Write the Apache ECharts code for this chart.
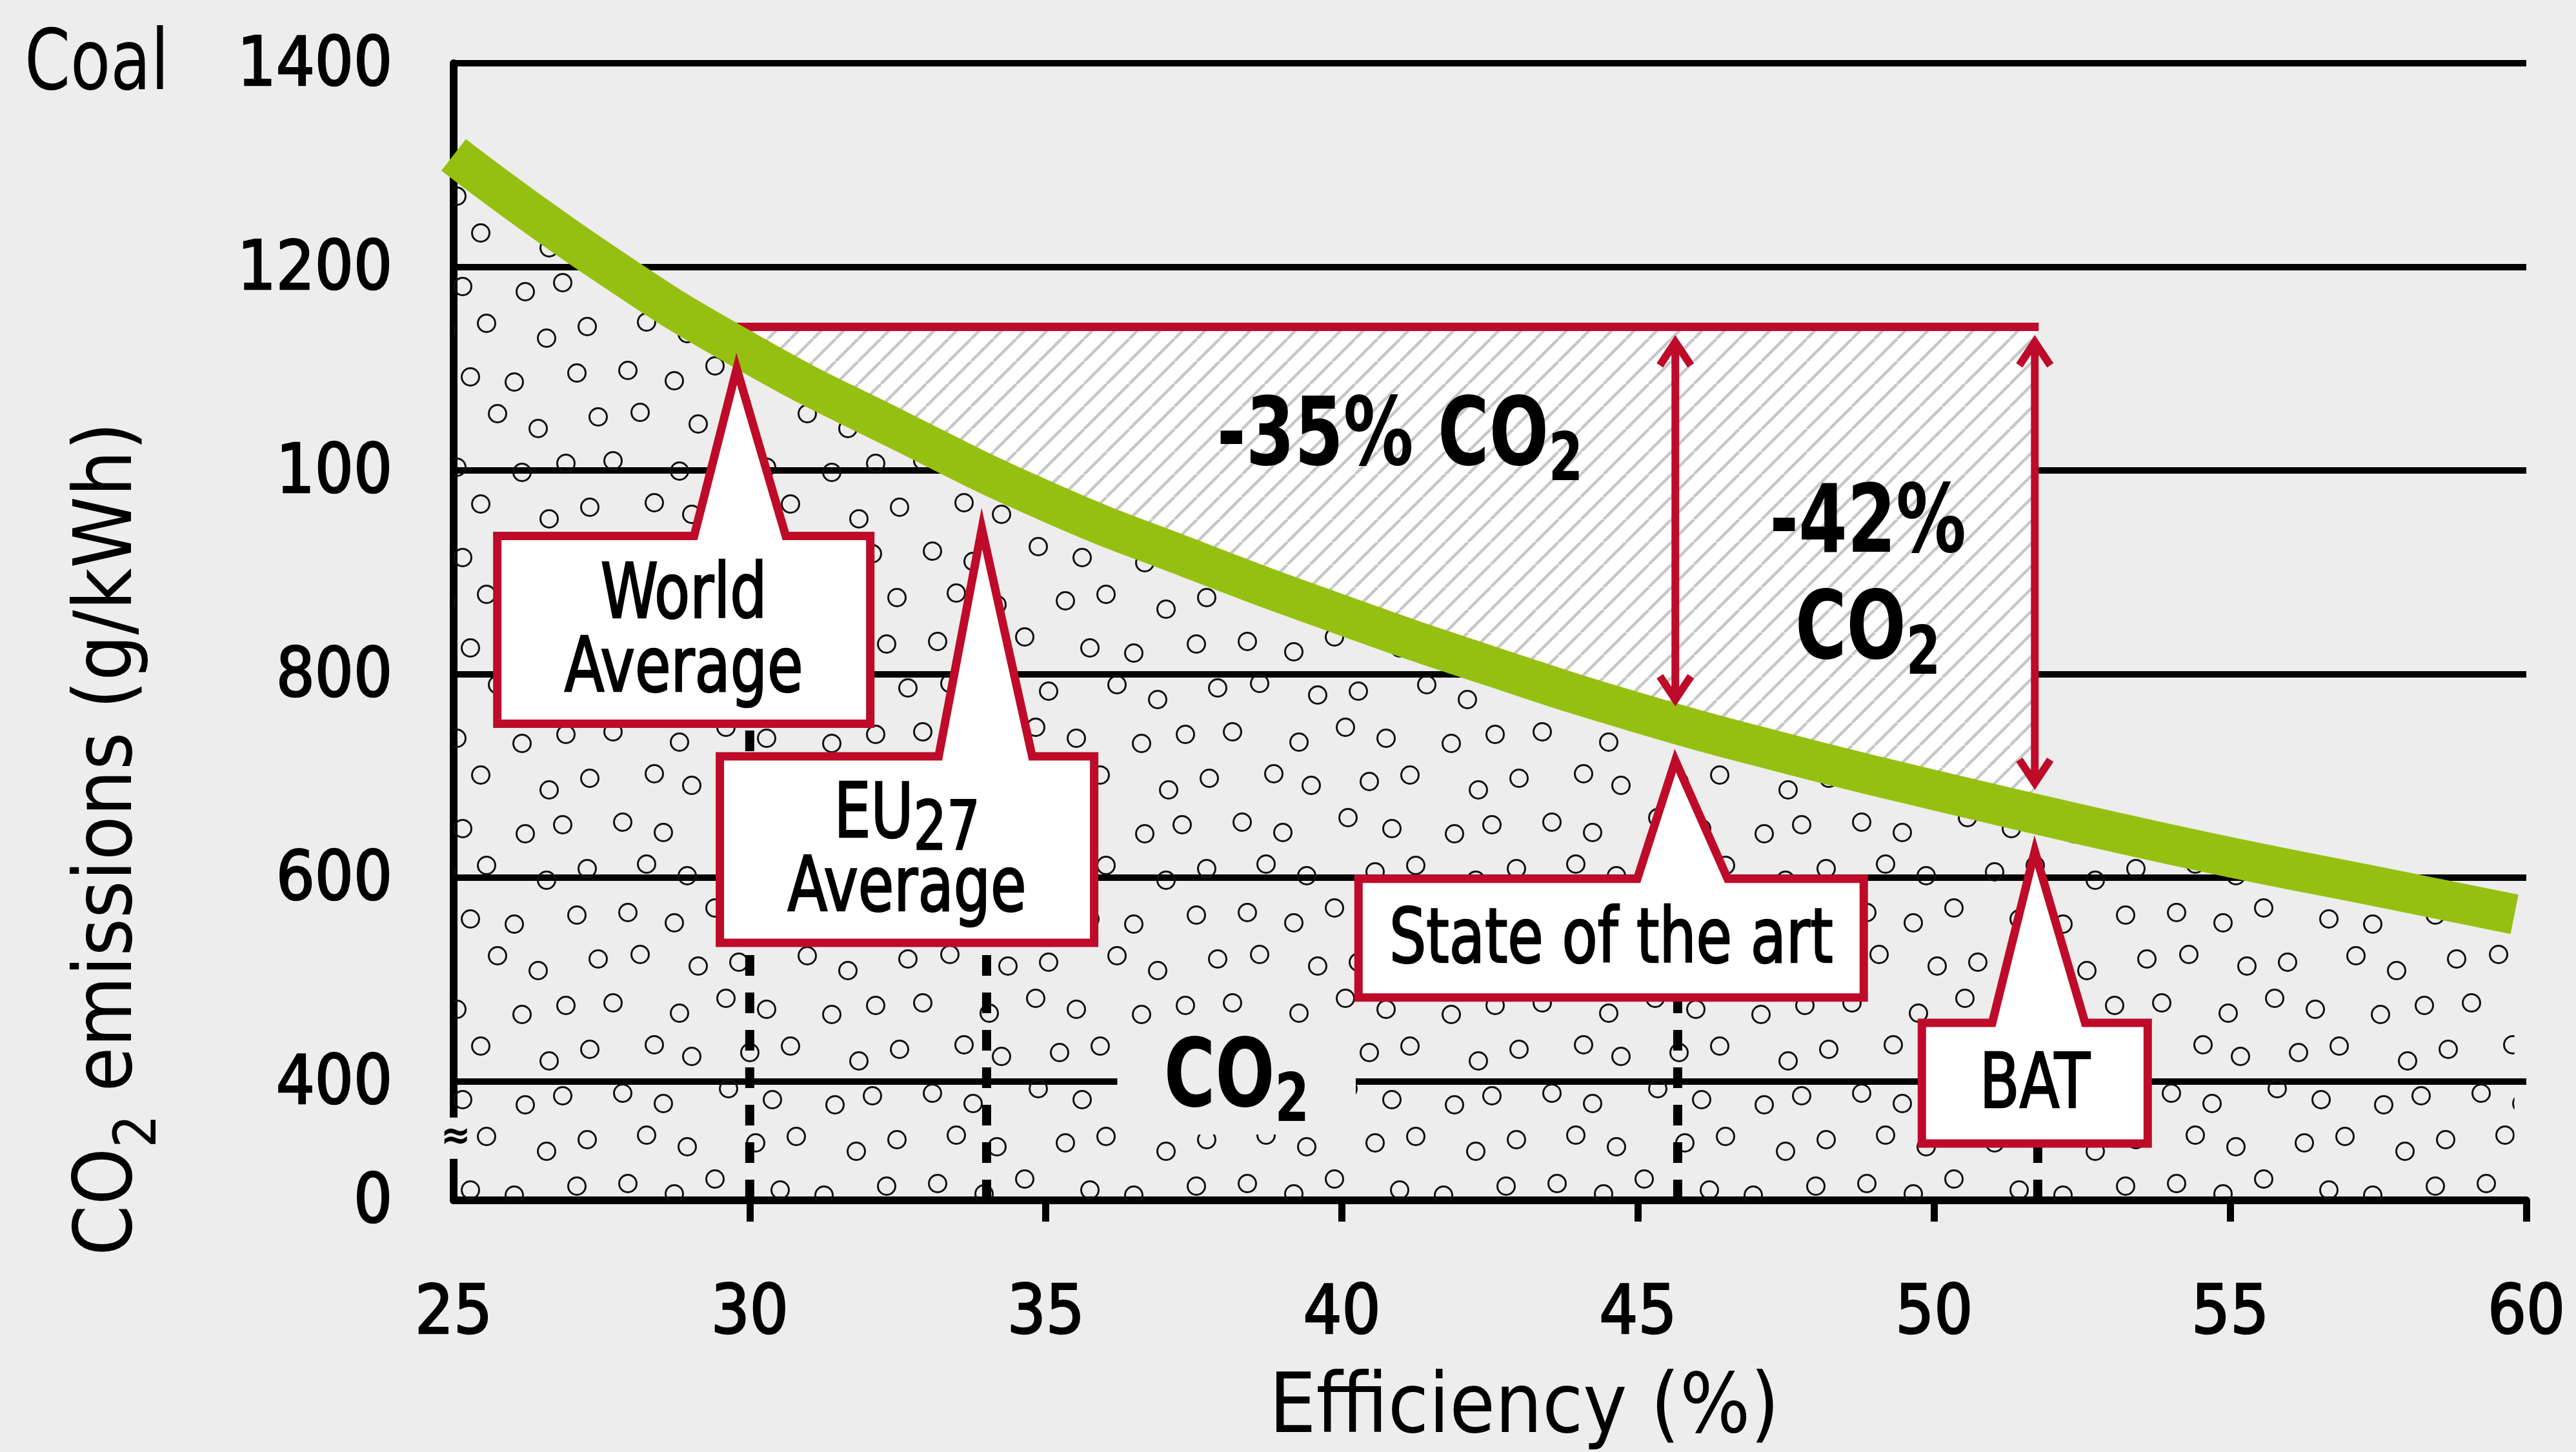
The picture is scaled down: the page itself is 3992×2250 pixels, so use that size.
<!doctype html>
<html>
<head>
<meta charset="utf-8">
<title>CO2 emissions of coal plants vs efficiency</title>
<script src="https://cdn.jsdelivr.net/npm/echarts@6.0.0/dist/echarts.min.js"></script>
<style>
  html, body { margin: 0; padding: 0; background: #ecedec; }
  #main { width: 3992px; height: 2250px; }
</style>
</head>
<body>
<div id="main"></div>
<script>
// green curve: efficiency (%) -> CO2 (g/kWh)
var efficiency = [25, 27.5, 30, 32.5, 35, 37.5, 40, 42.5, 45, 47.5, 50, 52.5, 55, 57.5, 59.8];
var co2 = [1310, 1205, 1115, 1040, 970, 912, 858, 808, 762, 722, 686, 652, 620, 591, 564];

// axes
var xTickMarks = [30, 35, 40, 45, 50, 55, 60];
var yFloor = 283;                       // bottom of the broken axis, labelled "0"
var yGrid = [400, 600, 800, 1000, 1200, 1400];
var yTickValues = [yFloor, 400, 600, 800, 1000, 1200, 1400];
var yTickLabels = ['0', '400', '600', '800', '100', '1200', '1400'];

// callouts: pointer tip and dashed marker on the axis
var calloutNames = ['{c|World}\n{c|Average}', '{c|EU}{n|27}\n{c|Average}', '{c|State of the art}', '{c|BAT}'];
var calloutTipX = [29.78, 33.92, 45.63, 51.70];
var calloutTipY = [1117, 960, 732, 643];
var calloutMarkX = [30, 34, 45.67, 51.75];

// reduction box and arrows
var boxTop = 1141;
var arrowX = [45.63, 51.7];
var arrowTop = [1133, 1133];
var arrowBottom = [768, 686];

// bold labels
var noteTexts = ['{b|-35% CO}{s|2}', '{b|-42%}\n{b|CO}{s|2}', '{b|CO}{s|2}'];
var noteX = [40.98, 48.88, 38.22];
var noteY = [1030, 892, 400];

var BG = '#ecedec', RED = '#be0b29', GREEN = '#96c011', HATCH = '#c6c8c8';

function pickFont(list) {
    var g = document.createElement('canvas').getContext('2d');
    var probe = 'Efficiency 0123456789 emissions';
    for (var i = 0; i < list.length; i++) {
        g.font = '100px "' + list[i] + '", monospace';
        var a = g.measureText(probe).width;
        g.font = '100px "' + list[i] + '", serif';
        var b = g.measureText(probe).width;
        if (a === b) return list[i];
    }
    return 'sans-serif';
}
var FONT = pickFont(['DejaVu Sans Condensed', 'Liberation Sans Narrow', 'Liberation Sans']);

// little open circles, staggered with a fixed jitter
function dotTile() {
    var w = 480, h = 420;
    var c = document.createElement('canvas');
    c.width = w; c.height = h;
    var g = c.getContext('2d');
    g.strokeStyle = '#111';
    g.lineWidth = 3;
    var jx = [5, -12, 9, -3, 14, -8, 2, -15, 11, -6, 7, -10, 13];
    var jy = [-6, 10, -13, 4, 12, -2, -11, 7, 1, -9, 14, -4];
    var n = 0;
    for (var r = 0; r < 6; r++) {
        for (var k = 0; k < 6; k++) {
            var cx = k * 80 + (r % 2) * 40 + jx[n % jx.length];
            var cy = r * 70 + 20 + jy[n % jy.length];
            n++;
            for (var ox = -w; ox <= w; ox += w) {
                for (var oy = -h; oy <= h; oy += h) {
                    g.beginPath();
                    g.arc(cx + ox, cy + oy, 13.5, 0, Math.PI * 2);
                    g.stroke();
                }
            }
        }
    }
    return c;
}

function hatchTile() {
    var s = 35;
    var c = document.createElement('canvas');
    c.width = s; c.height = s;
    var g = c.getContext('2d');
    g.fillStyle = '#fff';
    g.fillRect(0, 0, s, s);
    g.strokeStyle = HATCH;
    g.lineWidth = 4.5;
    for (var k = -1; k <= 1; k++) {
        g.beginPath();
        g.moveTo(k * s, s);
        g.lineTo(k * s + s, 0);
        g.stroke();
    }
    return c;
}
var hatchFill = { image: hatchTile(), repeat: 'repeat' };

function curveAt(x) {
    for (var i = 0; i < efficiency.length - 1; i++) {
        if (x >= efficiency[i] && x <= efficiency[i + 1]) {
            var t = (x - efficiency[i]) / (efficiency[i + 1] - efficiency[i]);
            return co2[i] + t * (co2[i + 1] - co2[i]);
        }
    }
    return co2[co2.length - 1];
}
function crossing(level) {
    for (var i = 0; i < co2.length - 1; i++) {
        if (co2[i] >= level && co2[i + 1] < level) {
            var t = (co2[i] - level) / (co2[i] - co2[i + 1]);
            return efficiency[i] + t * (efficiency[i + 1] - efficiency[i]);
        }
    }
    return efficiency[0];
}

// hatched area between the red line and the curve
function renderReduction(params, api) {
    var x0 = crossing(boxTop), x1 = arrowX[1];
    var pts = [api.coord([x0, boxTop]), api.coord([x1, boxTop]), api.coord([x1, curveAt(x1)])];
    for (var i = efficiency.length - 1; i >= 0; i--) {
        if (efficiency[i] > x0 && efficiency[i] < x1) pts.push(api.coord([efficiency[i], co2[i]]));
    }
    var a = api.coord([x0, boxTop]), b = api.coord([x1, boxTop]);
    return {
        type: 'group',
        children: [
            { type: 'polygon', shape: { points: pts }, style: { fill: hatchFill } },
            { type: 'line', shape: { x1: a[0], y1: a[1], x2: b[0] + 6, y2: b[1] }, style: { stroke: RED, lineWidth: 13 } }
        ]
    };
}

function renderArrow(params, api) {
    var top = api.coord([api.value(0), api.value(1)]);
    var bot = api.coord([api.value(0), api.value(2)]);
    var hw = 24, hh = 36, inset = 11;
    var st = { stroke: RED, lineWidth: 12, fill: null };
    return {
        type: 'group',
        children: [
            { type: 'line', shape: { x1: top[0], y1: top[1] + inset, x2: bot[0], y2: bot[1] - inset }, style: st },
            { type: 'polyline', shape: { points: [[top[0] - hw, top[1] + inset + hh], [top[0], top[1] + inset], [top[0] + hw, top[1] + inset + hh]] }, style: st },
            { type: 'polyline', shape: { points: [[bot[0] - hw, bot[1] - inset - hh], [bot[0], bot[1] - inset], [bot[0] + hw, bot[1] - inset - hh]] }, style: st }
        ]
    };
}

var noteRich = {
    b: { fontSize: 147, fontWeight: 'bold', fontFamily: FONT, fill: '#000', lineHeight: 165 },
    s: { fontSize: 104, fontWeight: 'bold', fontFamily: FONT, fill: '#000', lineHeight: 100, padding: [70, 0, 0, 0] }
};
function renderNote(params, api) {
    var p = api.coord([api.value(0), api.value(1)]);
    var i = params.dataIndex;
    var style = {
        text: noteTexts[i], rich: noteRich,
        align: 'center', verticalAlign: 'middle', textAlign: 'center', textVerticalAlign: 'middle'
    };
    if (i === 2) {
        style.backgroundColor = BG;
        style.padding = [0, 88, 0, 88];
    }
    return { type: 'text', x: p[0], y: p[1], scaleX: 0.82, style: style };
}

// box offsets in px from the pointer tip: left, right, top, bottom, pointer base
var calloutBoxes = [
    { l: -371, r: 207, t: 286, b: 577, bl: -66, br: 76 },
    { l: -406, r: 174, t: 380, b: 669, bl: -67, br: 78 },
    { l: -491, r: 292, t: 210, b: 394, bl: -59, br: 81 },
    { l: -175, r: 175, t: 293, b: 480, bl: -66, br: 78 }
];
var calloutRich = {
    c: { fontSize: 118, fontFamily: FONT, fill: '#000', stroke: '#000', lineWidth: 2.5, lineHeight: 114 },
    n: { fontSize: 106, fontFamily: FONT, fill: '#000', stroke: '#000', lineWidth: 2.5, lineHeight: 70, padding: [44, 0, 0, 0] }
};
function renderCallout(params, api) {
    var i = params.dataIndex, b = calloutBoxes[i];
    var tip = api.coord([api.value(0), api.value(1)]);
    var mark = api.coord([api.value(2), yFloor]);
    var tx = tip[0], ty = tip[1];
    var pts = [
        [tx, ty + 27], [tx + b.br, ty + b.t], [tx + b.r, ty + b.t], [tx + b.r, ty + b.b],
        [tx + b.l, ty + b.b], [tx + b.l, ty + b.t], [tx + b.bl, ty + b.t]
    ];
    return {
        type: 'group',
        children: [
            { type: 'line', shape: { x1: mark[0], y1: mark[1], x2: mark[0], y2: ty + b.b }, style: { stroke: '#000', lineWidth: 14, lineDash: [32, 26] } },
            { type: 'polygon', shape: { points: pts }, style: { fill: '#fff', stroke: RED, lineWidth: 13, lineJoin: 'miter', miterLimit: 10 } },
            {
                type: 'text', x: tx + (b.l + b.r) / 2, y: ty + (b.t + b.b) / 2 + 7, scaleX: 0.85,
                style: { text: calloutNames[i], rich: calloutRich, align: 'center', verticalAlign: 'middle', textAlign: 'center', textVerticalAlign: 'middle' }
            }
        ]
    };
}

function renderBreak(params, api) {
    var p = api.coord([api.value(0), api.value(1)]);
    return {
        type: 'group',
        children: [
            { type: 'rect', shape: { x: p[0] - 14, y: p[1] - 32, width: 28, height: 64 }, style: { fill: BG } },
            { type: 'text', x: p[0] + 3, y: p[1], style: { text: '\u2248', fontSize: 62, fontWeight: 'bold', fontFamily: FONT, fill: '#000', align: 'center', verticalAlign: 'middle', textAlign: 'center', textVerticalAlign: 'middle' } }
        ]
    };
}

var curveData = efficiency.map(function (x, i) { return [x, co2[i]]; });
var calloutData = calloutTipX.map(function (x, i) { return [x, calloutTipY[i], calloutMarkX[i]]; });
var arrowData = arrowX.map(function (x, i) { return [x, arrowTop[i], arrowBottom[i]]; });
var noteData = noteX.map(function (x, i) { return [x, noteY[i]]; });

var tickFont = { fontSize: 105, color: '#000', fontFamily: FONT, textBorderColor: '#000', textBorderWidth: 2.5 };

var myChart = echarts.init(document.getElementById('main'));
var option = {
    backgroundColor: BG,
    animation: false,
    textStyle: { fontFamily: FONT },
    grid: { left: 703, right: 77, top: 98, bottom: 390, containLabel: false, outerBoundsMode: 'none' },
    graphic: [
        { type: 'text', x: 38, y: 104, scaleX: 0.87, style: { text: 'Coal', fontSize: 130, fontFamily: FONT, fill: '#000', align: 'left', verticalAlign: 'middle', textAlign: 'left', textVerticalAlign: 'middle' } }
    ],
    xAxis: {
        type: 'value', min: 25, max: 60, interval: 5,
        name: 'Efficiency (%)', nameLocation: 'middle', nameGap: 262,
        nameTextStyle: { fontSize: 128, color: '#000', fontFamily: FONT, padding: [0, 0, 0, 106] },
        axisLine: { show: true, onZero: false, lineStyle: { color: '#000', width: 12 } },
        axisTick: { show: true, length: 33, customValues: xTickMarks, lineStyle: { color: '#000', width: 11 } },
        axisLabel: Object.assign({ margin: 126, showMinLabel: true, showMaxLabel: true }, tickFont),
        splitLine: { show: false }
    },
    yAxis: {
        type: 'value', min: yFloor, max: 1400,
        name: '{m|CO}{s|2}{m| emissions (g/kWh)}', nameLocation: 'middle', nameGap: 470,
        nameTextStyle: {
            color: '#000', padding: [0, 642, 0, 0],
            rich: {
                m: { fontSize: 125, fontFamily: FONT, color: '#000' },
                s: { fontSize: 90, fontFamily: FONT, color: '#000', lineHeight: 86, padding: [94, 0, 0, 0] }
            }
        },
        axisLine: { show: true, lineStyle: { color: '#000', width: 12 } },
        axisTick: { show: false, customValues: yGrid },
        axisLabel: {
            customValues: yTickValues,
            formatter: function (v) { return '{t|' + yTickLabels[yTickValues.indexOf(v)] + '}'; },
            margin: 95,
            rich: {
                t: Object.assign({ padding: [14, 0, 0, 0] }, tickFont)
            }
        },
        splitLine: { show: true, lineStyle: { color: '#000', width: 10 } }
    },
    series: [
        {
            type: 'line', data: curveData, smooth: 0.5, symbol: 'none', silent: true, z: 2,
            lineStyle: { width: 0, opacity: 0 },
            areaStyle: { origin: 'start', color: { image: dotTile(), repeat: 'repeat' }, opacity: 1 }
        },
        { type: 'custom', renderItem: renderReduction, data: [[arrowX[1], boxTop]], z: 3, silent: true },
        {
            type: 'line', data: curveData, smooth: 0.5, symbol: 'none', clip: false, silent: true, z: 4,
            lineStyle: { color: GREEN, width: 62, cap: 'butt' }
        },
        { type: 'custom', renderItem: renderArrow, data: arrowData, z: 5, silent: true },
        { type: 'custom', renderItem: renderNote, data: noteData, z: 6, silent: true },
        { type: 'custom', renderItem: renderCallout, data: calloutData, z: 7, silent: true },
        { type: 'custom', renderItem: renderBreak, data: [[25, 344]], z: 8, silent: true }
    ]
};
myChart.setOption(option);
</script>
</body>
</html>
